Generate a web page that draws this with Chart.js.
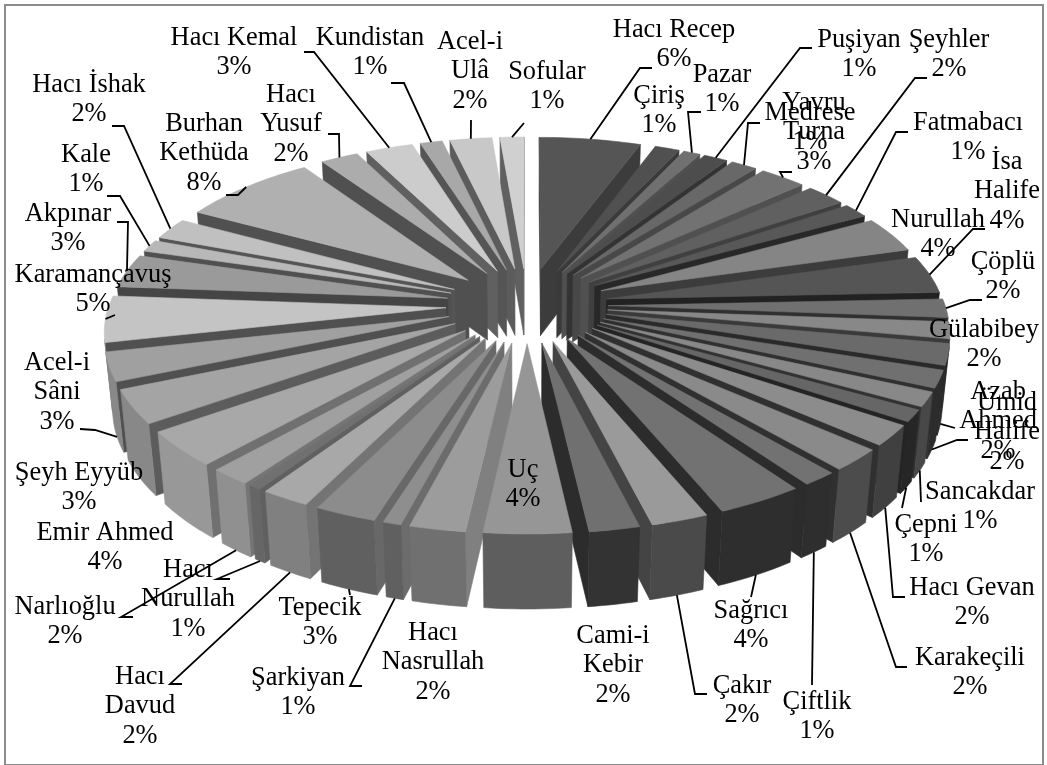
<!DOCTYPE html>
<html>
<head>
<meta charset="utf-8">
<title>Pie</title>
<script src="https://cdn.jsdelivr.net/npm/chart.js@4/dist/chart.umd.min.js"></script>
<style>
    html, body { margin: 0; padding: 0; background: #fff; }
    #frame { position: absolute; left: 4px; top: 4px; width: 1036px; height: 758px; border: 2px solid #8c8c8c; }
    #pieChart { position: absolute; left: 0; top: 0; }
</style>
</head>
<body>
<div id="frame"></div>
<canvas id="pieChart" width="1047" height="765"></canvas>
<script>
// Slices, clockwise from 12 o'clock
var categories = ["Hacı Recep", "Çiriş", "Pazar", "Puşiyan", "Medrese", "Yavru Turna", "Şeyhler", "Fatmabacı", "Nurullah", "İsa Halife", "Çöplü", "Gülabibey", "Azab Ahmed", "Ümid Halife", "Sancakdar", "Çepni", "Hacı Gevan", "Karakeçili", "Çiftlik", "Sağrıcı", "Çakır", "Cami-i Kebir", "Uç", "Hacı Nasrullah", "Şarkiyan", "Tepecik", "Hacı Davud", "Hacı Nurullah", "Narlıoğlu", "Emir Ahmed", "Şeyh Eyyüb", "Acel-i Sâni", "Karamançavuş", "Akpınar", "Kale", "Hacı İshak", "Burhan Kethüda", "Hacı Yusuf", "Hacı Kemal", "Kundistan", "Acel-i Ulâ", "Sofular"];
var values = [5.6, 1.36, 0.94, 1.33, 1.45, 2.58, 2.25, 1.45, 3.64, 3.8, 1.89, 1.69, 2.14, 1.75, 1.47, 1.19, 2.08, 2.25, 1.44, 3.61, 2.36, 2.08, 3.6, 2.3, 0.75, 2.55, 2.03, 0.53, 1.69, 3.61, 3.44, 2.92, 4.69, 3.39, 1.22, 2.17, 7.55, 2.08, 2.61, 1.22, 2.32, 1.32];

// Labels that break onto two lines before the percent
var wrappedNames = ["Yavru Turna", "İsa Halife", "Azab Ahmed", "Ümid Halife", "Cami-i Kebir", "Hacı Nasrullah", "Hacı Davud", "Hacı Nurullah", "Acel-i Sâni", "Burhan Kethüda", "Hacı Yusuf", "Acel-i Ulâ"];

// Grey levels per slice: top face, radial walls, outer rim
var topShades = [85, 80, 112, 77, 104, 114, 96, 88, 133, 85, 112, 136, 106, 112, 136, 102, 140, 138, 114, 114, 154, 112, 150, 156, 142, 140, 168, 112, 160, 168, 164, 160, 196, 154, 184, 192, 176, 172, 204, 168, 200, 208];
var wallShades = [60, 58, 80, 51, 72, 80, 64, 40, 60, 34, 48, 58, 42, 48, 50, 36, 48, 48, 44, 44, 68, 44, 130, 128, 108, 104, 116, 96, 117, 112, 92, 80, 80, 69, 80, 85, 80, 80, 96, 85, 92, 96];
var rimShades = [60, 58, 80, 51, 72, 80, 64, 40, 60, 34, 48, 58, 42, 44, 72, 38, 64, 76, 46, 46, 74, 51, 94, 112, 96, 96, 128, 102, 144, 152, 136, 136, 136, 130, 130, 130, 130, 130, 130, 130, 130, 130];

// Label centres (first line) and the elbows of their leader lines
var labelX = [674, 659, 722, 859, 810, 814, 949, 968, 938, 1007, 1003, 984, 998, 1007, 980, 926, 972, 970, 817, 751, 742, 613, 523, 433, 298, 320, 140, 188, 65, 105, 79, 57, 93, 68, 86, 89, 204, 291, 234, 370, 470, 547];
var labelY = [30, 96, 75, 40, 113, 103, 40, 123, 220, 162, 262, 330, 392, 403, 492, 525, 588, 658, 702, 611, 686, 636, 470, 633, 678, 608, 677, 570, 607, 533, 473, 363, 275, 214, 155, 85, 124, 95, 38, 38, 42, 72];
var leaderBends = [
    [[652, 68], [640, 68]], null, [[701, 112], [688, 112]], [[812, 48], [800, 48]], [[760, 123], [748, 123]],
    [[792, 172], [780, 172]], [[927, 78], [915, 78]], [[908, 132], [896, 132]], null, [[985, 229], [973, 229]],
    [[982, 300], [970, 300]], null, [[955, 428]], [[968, 440], [957, 440]], [[921, 502]],
    [[902, 508]], [[905, 597], [893, 597]], [[907, 667], [896, 667]], [[812, 685]], [[751, 597]],
    [[707, 694], [695, 694]], null, null, null, [[362, 686], [350, 686]],
    [[350, 595]], [[182, 684], [170, 684]], [[230, 579], [217, 579]], [[133, 617], [121, 617]], null,
    null, [[80, 429], [95, 430]], [[115, 315]], [[117, 222], [128, 222]], [[107, 196], [120, 196]],
    [[112, 126], [124, 126]], [[226, 195], [238, 195]], [[328, 134], [339, 134]], [[304, 52], [314, 52]], [[391, 83], [404, 83]],
    [[471, 120]], [[524, 123]]
];

// Perspective of the tilted disc
var centreX = 527, centreY = 305;
var tiltY = 0.4637, nearGrow = 0.000367, depthY = 69, depthShrink = 0.018;

function gray(level) {
    return "rgb(" + level + "," + level + "," + level + ")";
}

function project(u, v, z) {
    var w = 1 - nearGrow * v + depthShrink * z;
    return { x: centreX + u / w, y: centreY + (tiltY * v + depthY * z) / w };
}

function slicePoint(arc, angle, r, z) {
    var mid = (arc.startAngle + arc.endAngle) / 2;
    var off = arc.options.offset;
    return project(off * Math.cos(mid) + r * Math.cos(angle), off * Math.sin(mid) + r * Math.sin(angle), z);
}

function fillPolygon(ctx, pts, color) {
    ctx.beginPath();
    pts.forEach(function (p, i) {
        if (i === 0) ctx.moveTo(p.x, p.y);
        else ctx.lineTo(p.x, p.y);
    });
    ctx.closePath();
    ctx.fillStyle = color;
    ctx.strokeStyle = color;
    ctx.lineWidth = 0.6;
    ctx.fill();
    ctx.stroke();
}

function signedArea(pts) {
    var sum = 0;
    pts.forEach(function (p, i) {
        var q = pts[(i + 1) % pts.length];
        sum += p.x * q.y - q.x * p.y;
    });
    return sum;
}

// one wall of the prism, skipped when it faces away from the viewer
function wallQuad(arc, a1, r1, a2, r2) {
    return [slicePoint(arc, a1, r1, 0), slicePoint(arc, a2, r2, 0), slicePoint(arc, a2, r2, 1), slicePoint(arc, a1, r1, 1)];
}

function drawWall(ctx, arc, a1, r1, a2, r2, color) {
    var quad = wallQuad(arc, a1, r1, a2, r2);
    if (signedArea(quad) < 0) fillPolygon(ctx, quad, color);
}

function drawSlice(ctx, arc, i) {
    var R = arc.outerRadius;
    var a0 = arc.startAngle, a1 = arc.endAngle;
    var steps = Math.max(4, Math.ceil((a1 - a0) / 0.02));
    var top = [slicePoint(arc, a0, 0, 0)];
    var rimTop = [], rimBottom = [];
    drawWall(ctx, arc, a0, 0, a0, R, gray(wallShades[i]));
    drawWall(ctx, arc, a1, R, a1, 0, gray(wallShades[i]));
    for (var s = 0; s < steps; s++) {
        var p = a0 + (a1 - a0) * s / steps;
        var q = a0 + (a1 - a0) * (s + 1) / steps;
        var quad = wallQuad(arc, p, R, q, R);
        if (signedArea(quad) < 0) {
            if (rimTop.length === 0) {
                rimTop.push(quad[0]);
                rimBottom.unshift(quad[3]);
            }
            rimTop.push(quad[1]);
            rimBottom.unshift(quad[2]);
        }
        top.push(slicePoint(arc, p, R, 0));
    }
    if (rimTop.length) fillPolygon(ctx, rimTop.concat(rimBottom), gray(rimShades[i]));
    top.push(slicePoint(arc, a1, R, 0));
    fillPolygon(ctx, top, arc.options.backgroundColor);
}

var solidSlices = {
    id: "solidSlices",
    beforeDatasetDraw: function (chart) {
        var arcs = chart.getDatasetMeta(0).data;
        var order = arcs.map(function (arc, i) { return i; });
        order.sort(function (a, b) {
            return Math.sin((arcs[a].startAngle + arcs[a].endAngle) / 2) - Math.sin((arcs[b].startAngle + arcs[b].endAngle) / 2);
        });
        order.forEach(function (i) { drawSlice(chart.ctx, arcs[i], i); });
        return false;
    },
    afterDraw: function (chart) {
        var ctx = chart.ctx;
        var arcs = chart.getDatasetMeta(0).data;
        var total = values.reduce(function (a, b) { return a + b; }, 0);
        ctx.save();
        ctx.strokeStyle = "#000";
        ctx.lineWidth = 1.8;
        arcs.forEach(function (arc, i) {
            if (!leaderBends[i]) return;
            var mid = (arc.startAngle + arc.endAngle) / 2;
            var end = slicePoint(arc, mid, arc.outerRadius, Math.sin(mid) > 0.1 ? 1 : 0);
            ctx.beginPath();
            leaderBends[i].forEach(function (p, n) {
                if (n === 0) ctx.moveTo(p[0], p[1]);
                else ctx.lineTo(p[0], p[1]);
            });
            ctx.lineTo(end.x, end.y);
            ctx.stroke();
        });
        ctx.fillStyle = "#000";
        ctx.font = '26.4px "Liberation Serif"';
        ctx.textAlign = "center";
        ctx.textBaseline = "middle";
        categories.forEach(function (name, i) {
            var rows = wrappedNames.indexOf(name) >= 0 ? name.split(" ") : [name];
            rows.push(Math.round(values[i] / total * 100) + "%");
            rows.forEach(function (row, n) {
                ctx.fillText(row, labelX[i], labelY[i] + n * 29.3);
            });
        });
        ctx.restore();
    }
};

document.addEventListener("DOMContentLoaded", function () {
    var ctx = document.getElementById("pieChart").getContext("2d");

    var pieChart = new Chart(ctx, {
        type: "pie",
        data: {
            labels: categories,
            datasets: [
                {
                    data: values,
                    backgroundColor: topShades.map(gray),
                    offset: 81,
                    borderWidth: 0,
                },
            ],
        },
        options: {
            responsive: false,
            animation: false,
            radius: 337,
            plugins: {
                legend: { display: false },
                tooltip: { enabled: false },
            },
        },
        plugins: [solidSlices],
    });
});
</script>
</body>
</html>
